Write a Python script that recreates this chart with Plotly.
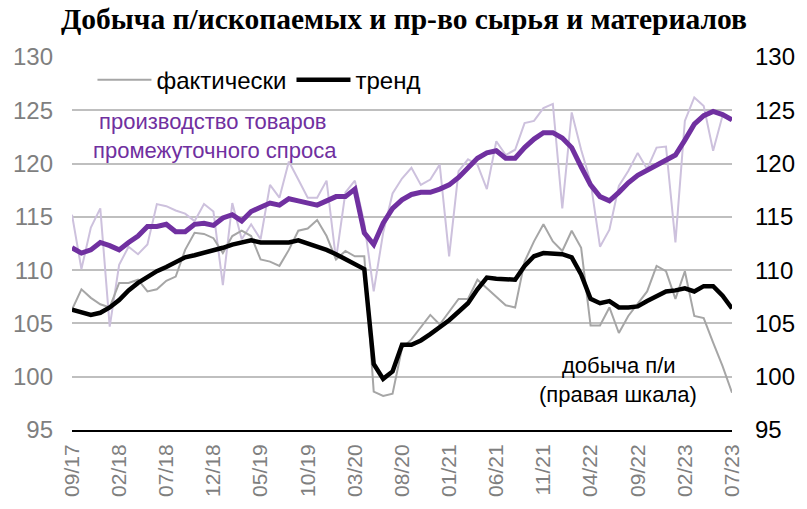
import plotly.graph_objects as go

# ---- categories (monthly, 09/17 .. 07/23) ----
months = []
y, m = 2017, 9
while (y, m) <= (2023, 7):
    months.append(f"{m:02d}/{y % 100:02d}")
    m += 1
    if m > 12:
        m = 1
        y += 1
tick_labels = months[::5]

# ---- series values ----
purple_actual = [115.2, 110.1, 114.0, 115.8, 104.7, 110.5, 112.2, 111.5, 112.4, 116.2,
                 116.0, 115.6, 115.3, 114.6, 116.2, 115.5, 108.6, 116.3, 112.9, 114.3,
                 112.9, 118.0, 116.8, 120.2, 118.5, 116.8, 116.8, 118.4, 111.0, 117.3,
                 118.4, 114.4, 108.0, 113.5, 117.2, 118.6, 119.6, 118.0, 118.5, 119.9,
                 111.3, 119.3, 120.4, 119.9, 117.6, 122.1, 120.8, 121.3, 123.8, 124.0,
                 125.2, 125.6, 115.8, 124.8, 121.3, 118.3, 112.2, 113.8, 117.9, 119.3,
                 121.0, 119.5, 121.5, 121.6, 112.6, 124.0, 126.2, 125.4, 121.2, 124.5,
                 124.1]
purple_trend = [112.1, 111.6, 111.9, 112.6, 112.3, 111.9, 112.6, 113.2, 114.1, 114.1,
                114.3, 113.6, 113.6, 114.3, 114.4, 114.2, 114.9, 115.2, 114.6, 115.5,
                115.9, 116.3, 116.1, 116.7, 116.5, 116.3, 116.1, 116.5, 116.9, 116.9,
                117.6, 113.5, 112.4, 114.4, 115.8, 116.6, 117.1, 117.3, 117.3, 117.6,
                118.0, 118.7, 119.6, 120.5, 121.0, 121.2, 120.5, 120.5, 121.5, 122.3,
                122.9, 122.9, 122.4, 121.5, 119.7, 118.0, 116.9, 116.5, 117.3, 118.2,
                118.9, 119.4, 119.9, 120.4, 120.8, 122.2, 123.7, 124.5, 124.9, 124.6,
                124.1]
mining_actual = [106.3, 108.2, 107.4, 106.8, 106.5, 108.8, 108.8, 109.1, 108.0, 108.2,
                 109.0, 109.4, 111.9, 113.5, 113.4, 113.0, 111.6, 113.2, 113.7, 113.2,
                 111.0, 110.8, 110.4, 111.9, 113.7, 113.9, 114.7, 113.2, 111.0, 111.8,
                 111.3, 111.3, 98.6, 98.2, 98.4, 102.7, 103.5, 104.6, 105.8, 104.9,
                 106.1, 107.3, 107.3, 109.1, 108.3, 107.5, 106.7, 106.5, 110.8, 112.7,
                 114.3, 112.7, 111.8, 113.7, 112.1, 104.8, 104.8, 106.5, 104.1, 105.7,
                 106.8, 108.0, 110.4, 109.9, 107.3, 109.9, 105.7, 105.5, 103.2, 101.0,
                 98.5]
mining_trend = [106.3, 106.0, 105.8, 106.0, 106.5, 107.2, 108.1, 108.8, 109.4, 109.9,
                110.3, 110.8, 111.2, 111.4, 111.6, 111.9, 112.1, 112.4, 112.6, 112.8,
                112.6, 112.6, 112.6, 112.6, 112.8, 112.5, 112.3, 111.9, 111.5, 111.0,
                110.5, 110.1, 101.2, 99.8, 100.5, 103.0, 103.0, 103.4, 104.0, 104.6,
                105.3, 106.1, 106.9, 108.2, 109.3, 109.2, 109.1, 109.1, 110.4, 111.3,
                111.6, 111.6, 111.5, 111.2, 109.6, 107.3, 106.9, 107.1, 106.5, 106.5,
                106.6, 107.1, 107.6, 108.0, 108.1, 108.3, 108.0, 108.5, 108.5, 107.6,
                106.4]

PURPLE = "#7030A0"
LAVENDER = "#CDC1DD"
GRAY = "#A6A6A6"
SANS = "Liberation Sans"

fig = go.Figure()
fig.add_trace(go.Scatter(x=months, y=purple_actual, mode="lines", yaxis="y",
                         line=dict(color=LAVENDER, width=2), showlegend=False))
fig.add_trace(go.Scatter(x=months, y=mining_actual, mode="lines", yaxis="y2",
                         name="фактически", line=dict(color=GRAY, width=2)))
fig.add_trace(go.Scatter(x=months, y=purple_trend, mode="lines", yaxis="y",
                         line=dict(color=PURPLE, width=5), showlegend=False))
fig.add_trace(go.Scatter(x=months, y=mining_trend, mode="lines", yaxis="y2",
                         name="тренд", line=dict(color="black", width=4.5)))

fig.update_layout(
    width=807, height=509,
    margin=dict(l=72, r=69, t=57, b=79),
    plot_bgcolor="white", paper_bgcolor="white",
    title=dict(text="<b>Добыча п/ископаемых и пр-во сырья и материалов</b>",
               font=dict(family="Liberation Serif", size=29.5, color="black"),
               x=404 / 807, xref="container", xanchor="center",
               y=1 - 19 / 509, yref="container", yanchor="middle"),
    xaxis=dict(type="category", range=[0, 70], tickvals=tick_labels, ticktext=tick_labels,
               tickangle=-90, showgrid=False, showline=True, linecolor="black", linewidth=2,
               ticks="", ticklabelstandoff=4,
               tickfont=dict(family=SANS, size=21, color="#7F7F7F")),
    yaxis=dict(range=[95, 130], dtick=5, showgrid=True, gridcolor="#BFBFBF", gridwidth=1.5,
               zeroline=False, ticks="", ticklabelstandoff=18,
               tickfont=dict(family=SANS, size=24, color="#7F7F7F")),
    yaxis2=dict(range=[95, 130], dtick=5, overlaying="y", side="right", showgrid=False,
                zeroline=False, ticks="", ticklabelstandoff=22,
                tickfont=dict(family=SANS, size=24, color="black")),
    legend=dict(orientation="h", x=0.031, xanchor="left", y=0.998, yanchor="top",
                itemwidth=54, bgcolor="rgba(0,0,0,0)",
                font=dict(family=SANS, size=24, color="black")),
    annotations=[
        dict(text="производство товаров", xref="paper", yref="paper", x=0.214, y=0.826,
             xanchor="center", yanchor="middle",
             showarrow=False, font=dict(family=SANS, size=22, color=PURPLE)),
        dict(text="промежуточного спроса", xref="paper", yref="paper", x=0.217, y=0.748,
             xanchor="center", yanchor="middle",
             showarrow=False, font=dict(family=SANS, size=22, color=PURPLE)),
        dict(text="добыча п/и", xref="paper", yref="paper", x=0.829, y=0.174,
             xanchor="center", yanchor="middle",
             showarrow=False, font=dict(family=SANS, size=22, color="black")),
        dict(text="(правая шкала)", xref="paper", yref="paper", x=0.827, y=0.0965,
             xanchor="center", yanchor="middle",
             showarrow=False, font=dict(family=SANS, size=22, color="black")),
    ],
)

fig.write_html("out.html", config={"displayModeBar": False},
               post_script="document.body.style.margin='0px';")
